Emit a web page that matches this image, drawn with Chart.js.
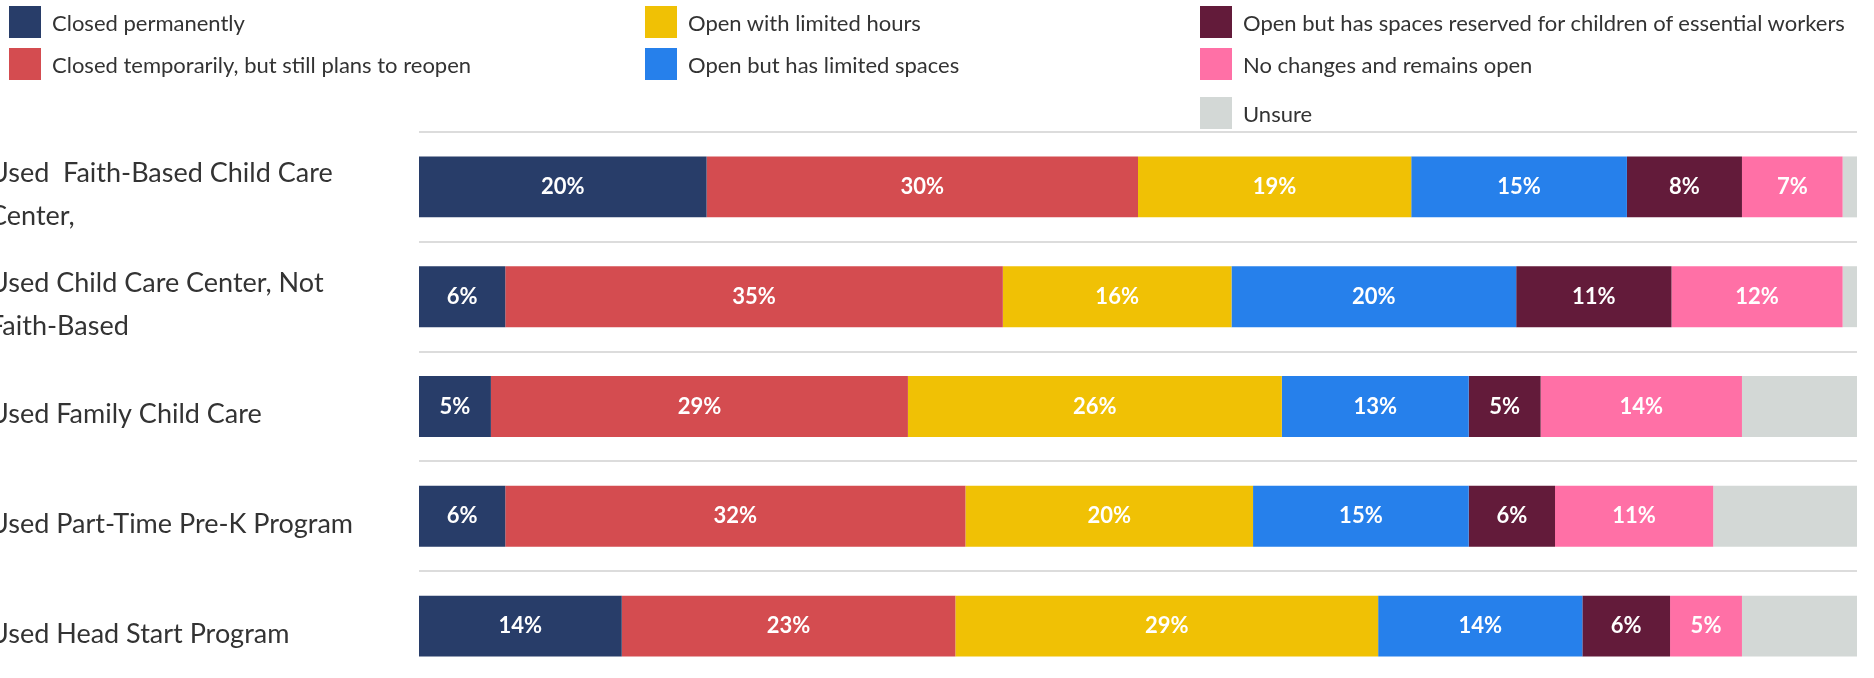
<!DOCTYPE html>
<html>
<head>
<meta charset="utf-8">
<script src="https://cdn.jsdelivr.net/npm/chart.js@4"></script>
<style>
  html, body { margin: 0; padding: 0; background: #fff; overflow: hidden; }
  #wrap { position: relative; width: 1874px; height: 678px; overflow: hidden; }
  #myChart { position: absolute; left: -11px; top: 0; }
  #legend { position: absolute; left: 0; top: 0; width: 1874px; height: 135px; font-family: Lato, "Open Sans", sans-serif; font-size: 22px; color: #333; }
  .item { position: absolute; display: flex; align-items: center; height: 32px; white-space: nowrap; }
  .box { width: 32px; height: 32px; margin-right: 11px; }
</style>
</head>
<body>
<div id="wrap">
  <canvas id="myChart" width="1885" height="728"></canvas>
  <div id="legend"></div>
</div>
<script>
const categories = [
  ['Used  Faith-Based Child Care', 'Center,'],
  ['Used Child Care Center, Not', 'Faith-Based'],
  'Used Family Child Care',
  'Used Part-Time Pre-K Program',
  'Used Head Start Program'
];

const seriesNames = [
  'Closed permanently',
  'Closed temporarily, but still plans to reopen',
  'Open with limited hours',
  'Open but has limited spaces',
  'Open but has spaces reserved for children of essential workers',
  'No changes and remains open',
  'Unsure'
];

// percentages per category
const closedPermanently = [20, 6, 5, 6, 14.1];
const closedTemporarily = [30, 34.6, 29, 32, 23.2];
const limitedHours = [19, 15.9, 26, 20, 29.4];
const limitedSpaces = [15, 19.8, 13, 15, 14.2];
const reservedSpaces = [8, 10.8, 5, 6, 6.1];
const noChanges = [7, 11.9, 14, 11, 5];
const unsure = [1, 1, 8, 10, 8];

const seriesColors = ['#283d69', '#d44c50', '#f0c105', '#2680eb', '#631b3a', '#ff70a6', '#d3d8d6'];

document.addEventListener("DOMContentLoaded", () => {
  const chartCanvas = document.getElementById("myChart");
  const legendBox = document.getElementById("legend");

  const allSeries = [closedPermanently, closedTemporarily, limitedHours, limitedSpaces, reservedSpaces, noChanges, unsure];

  const datasets = allSeries.map((values, i) => ({
    label: seriesNames[i],
    data: values,
    backgroundColor: seriesColors[i],
    borderWidth: 0,
    barPercentage: 0.555,
    categoryPercentage: 1,
    showValues: i < 6
  }));

  // white value labels in the middle of each segment
  const valueLabels = {
    id: 'valueLabels',
    afterDatasetsDraw(chart) {
      const ctx = chart.ctx;
      ctx.save();
      ctx.font = 'bold 22px Lato, "Open Sans", sans-serif';
      ctx.fillStyle = '#fff';
      ctx.textAlign = 'center';
      ctx.textBaseline = 'middle';
      chart.data.datasets.forEach((ds, i) => {
        if (!ds.showValues) return;
        chart.getDatasetMeta(i).data.forEach((bar, j) => {
          const p = bar.getCenterPoint();
          ctx.fillText(Math.round(ds.data[j]) + '%', p.x, p.y);
        });
      });
      ctx.restore();
    }
  };

  const myChart = new Chart(chartCanvas, {
    type: 'bar',
    data: { labels: categories, datasets: datasets },
    options: {
      indexAxis: 'y',
      responsive: false,
      animation: false,
      layout: { padding: { top: 132, right: 17, bottom: 47, left: 0 } },
      plugins: {
        legend: { display: false },
        tooltip: { enabled: false }
      },
      scales: {
        x: {
          stacked: true,
          min: 0,
          max: 100,
          display: false
        },
        y: {
          stacked: true,
          border: { display: false },
          grid: { color: '#dcdcdc', lineWidth: 2, drawTicks: false, offset: true },
          afterFit(scale) { scale.width = 430; },
          ticks: {
            crossAlign: 'far',
            labelOffset: 8,
            color: '#333',
            font: { family: 'Lato, "Open Sans", sans-serif', size: 27, lineHeight: 1.6 }
          }
        }
      }
    },
    plugins: [valueLabels]
  });

  // three-column legend, filled top to bottom
  const legendColumns = [[0, 1], [2, 3], [4, 5, 6]];
  const columnX = [9, 645, 1200];
  const rowY = [6, 48, 97];
  legendColumns.forEach((col, c) => {
    col.forEach((idx, r) => {
      const item = document.createElement('div');
      item.className = 'item';
      item.style.left = columnX[c] + 'px';
      item.style.top = rowY[r] + 'px';
      const box = document.createElement('span');
      box.className = 'box';
      box.style.background = myChart.data.datasets[idx].backgroundColor;
      const text = document.createElement('span');
      text.textContent = myChart.data.datasets[idx].label;
      item.appendChild(box);
      item.appendChild(text);
      legendBox.appendChild(item);
    });
  });
});
</script>
</body>
</html>
